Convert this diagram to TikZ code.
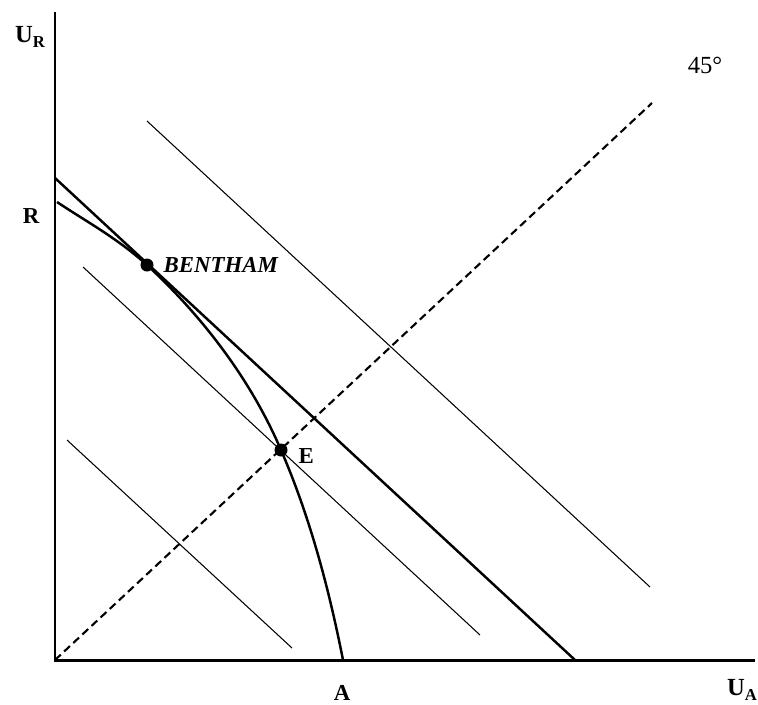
\documentclass[tikz,border=0pt]{standalone}
\usepackage{fontspec}
\setmainfont{Liberation Serif}
\usetikzlibrary{positioning}
\newcommand{\axlab}[2]{#1\raisebox{-0.45ex}{\fontsize{9.5}{10}\selectfont #2}}

\begin{document}
\begin{tikzpicture}[x=0.02cm, y=-0.02cm,
  lbl/.style={font=\fontsize{13}{15}\selectfont\bfseries, inner sep=0pt},
  axis/.style={line width=1.7pt},
  frontier/.style={line width=1.4pt},
  iso/.style={line width=0.6pt},
  ray/.style={line width=1.2pt, dash pattern=on 4.5pt off 2.6pt},
  dot/.style={circle, fill, inner sep=0pt, minimum size=7.4pt}]
\useasboundingbox (0,0) rectangle (758,704);
% axes and 45 degree ray
\coordinate (O) at (55,660);
\coordinate (ytop) at (55,12);
\coordinate (xend) at (755,660);
\coordinate (raytop) at (652,103);
\draw[ray] (O) -- (raytop);
\draw[axis] (ytop) -- (O) -- (xend);
% budget line and iso-welfare lines
\coordinate (Rb) at (55,178);
\coordinate (Ab) at (575,660);
\coordinate (iso1a) at (147,121);  \coordinate (iso1b) at (650,587);
\coordinate (iso2a) at (83,267);   \coordinate (iso2b) at (480,635);
\coordinate (iso3a) at (67,440);   \coordinate (iso3b) at (292,648);
\draw[frontier] (Rb) -- (Ab);
\draw[iso] (iso1a) -- (iso1b);
\draw[iso] (iso2a) -- (iso2b);
\draw[iso] (iso3a) -- (iso3b);
% utility possibility frontier
\coordinate (fstart) at (57,202);
\coordinate (b) at (147,265);
\coordinate (e) at (281,450);
\coordinate (fend) at (343,660);
\draw[frontier] (fstart) .. controls (87,222) and (117,238) .. (b)
  .. controls (203,317) and (251,380) .. (e)
  .. controls (310,517) and (329,589) .. (fend);
% points
\node[dot] (bentham) at (b) {};
\node[dot] (eq) at (e) {};
\node[lbl, font=\fontsize{13}{15}\selectfont\bfseries\itshape, right=0.19cm of bentham] {BENTHAM};
\node[lbl, right=0.21cm of eq, yshift=-0.13cm] {E};
% axis labels
\node[lbl, font=\fontsize{14}{16}\selectfont\bfseries] (ur) at (30,37) {\axlab{U}{R}};
\node[lbl] (rlab) at (31,216) {R};
\node[lbl] (alab) at (342,693) {A};
\node[lbl, font=\fontsize{14}{16}\selectfont\bfseries] (ua) at (742,690) {\axlab{U}{A}};
\node[inner sep=0pt, font=\fontsize{14}{16}\selectfont] (deg) at (705,65) {45°};
\end{tikzpicture}
\end{document}
